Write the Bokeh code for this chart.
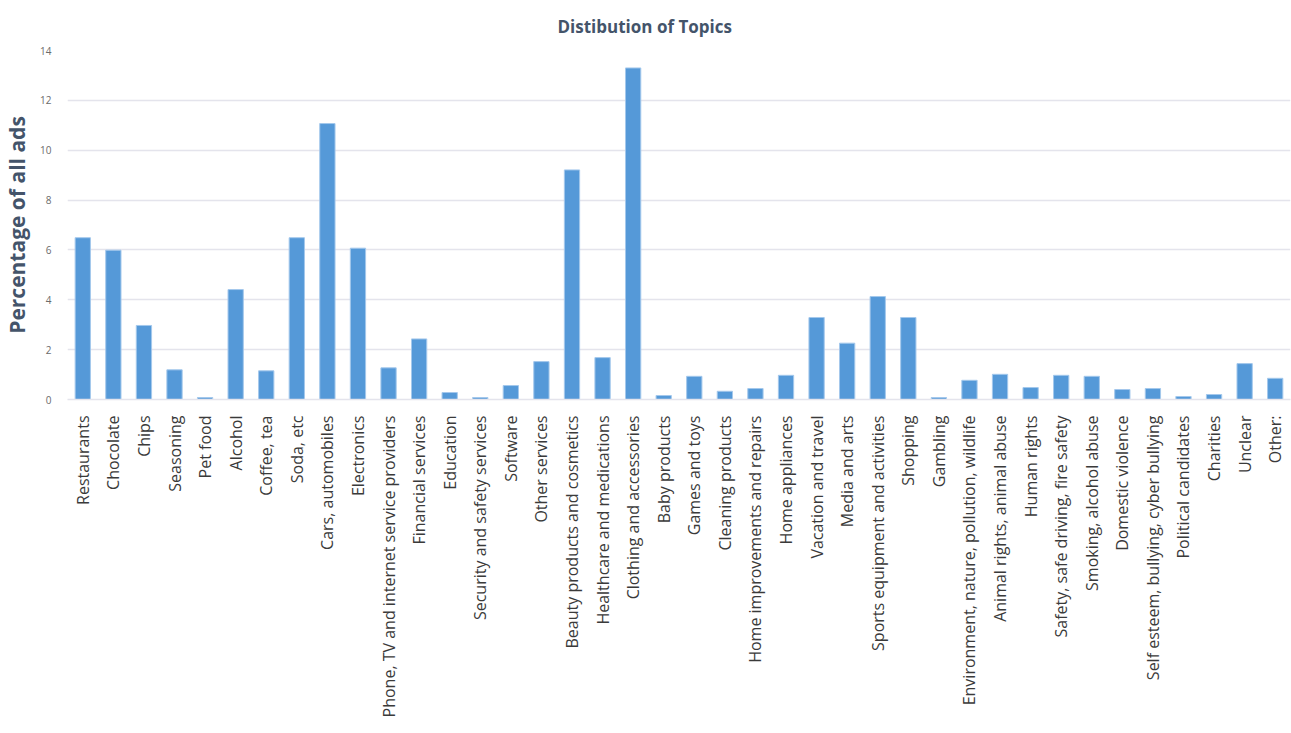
from bokeh.plotting import figure
from bokeh.models import FactorRange, ColumnDataSource, Range1d, FixedTicker, Title
from bokeh.embed import file_html
from bokeh.resources import INLINE

categories = [
    "Restaurants", "Chocolate", "Chips", "Seasoning", "Pet food", "Alcohol",
    "Coffee, tea", "Soda, etc", "Cars, automobiles", "Electronics",
    "Phone, TV and internet service providers", "Financial services",
    "Education", "Security and safety services", "Software", "Other services",
    "Beauty products and cosmetics", "Healthcare and medications",
    "Clothing and accessories", "Baby products", "Games and toys",
    "Cleaning products", "Home improvements and repairs", "Home appliances",
    "Vacation and travel", "Media and arts", "Sports equipment and activities",
    "Shopping", "Gambling", "Environment, nature, pollution, wildlife",
    "Animal rights, animal abuse", "Human rights",
    "Safety, safe driving, fire safety", "Smoking, alcohol abuse",
    "Domestic violence", "Self esteem, bullying, cyber bullying",
    "Political candidates", "Charities", "Unclear", "Other:",
]
percentages = [
    6.49, 5.99, 2.97, 1.19, 0.08, 4.41, 1.15, 6.49, 11.07, 6.07,
    1.27, 2.43, 0.28, 0.08, 0.56, 1.52, 9.21, 1.68, 13.3, 0.16,
    0.93, 0.33, 0.44, 0.97, 3.29, 2.26, 4.13, 3.29, 0.08, 0.77,
    1.01, 0.48, 0.97, 0.93, 0.40, 0.44, 0.12, 0.20, 1.44, 0.85,
]
y_ticks = [0, 2, 4, 6, 8, 10, 12, 14]
title_text = "Distibution  of Topics"

src = ColumnDataSource(dict(cat=categories, val=percentages))

p = figure(
    width=1291, height=733,
    x_range=FactorRange(*categories, range_padding=0),
    y_range=Range1d(0, 14),
    output_backend="svg", toolbar_location=None,
    min_border_left=62, min_border_right=1, min_border_top=50, min_border_bottom=334,
)
p.title = None
p.add_layout(Title(text=title_text, align="left", offset=490,
                   text_font="Open Sans", text_font_size="17px", text_font_style="bold",
                   text_color="#44546a", standoff=25), "above")

p.vbar(x="cat", top="val", width=0.5, source=src,
       fill_color="#5599d8", line_color="#a4c8ec", line_width=1)

p.outline_line_color = None
p.background_fill_color = "white"
p.border_fill_color = "white"

p.xgrid.grid_line_color = None
p.ygrid.grid_line_color = "#e4e4ec"
p.ygrid.grid_line_width = 1.5

p.yaxis.ticker = FixedTicker(ticks=y_ticks)
p.yaxis.axis_line_color = None
p.yaxis.major_tick_line_color = None
p.yaxis.minor_tick_line_color = None
p.yaxis.major_label_text_font = "Open Sans"
p.yaxis.major_label_text_font_size = "10px"
p.yaxis.major_label_text_color = "#6b6b6b"
p.yaxis.major_label_standoff = 10
p.yaxis.axis_label = "Percentage of all ads"
p.yaxis.axis_label_text_font = "Open Sans"
p.yaxis.axis_label_text_font_size = "21px"
p.yaxis.axis_label_text_font_style = "bold"
p.yaxis.axis_label_text_color = "#44546a"
p.yaxis.axis_label_standoff = 6

p.xaxis.axis_line_color = "#e4e4ec"
p.xaxis.axis_line_width = 1.5
p.xaxis.major_tick_line_color = None
p.xaxis.minor_tick_line_color = None
p.xaxis.major_label_orientation = 1.5708
p.xaxis.major_label_text_font = "Open Sans"
p.xaxis.major_label_text_font_size = "16px"
p.xaxis.major_label_text_color = "#3a3a3a"
p.xaxis.major_label_standoff = 10

open("out.html", "w").write(file_html(p, INLINE))
